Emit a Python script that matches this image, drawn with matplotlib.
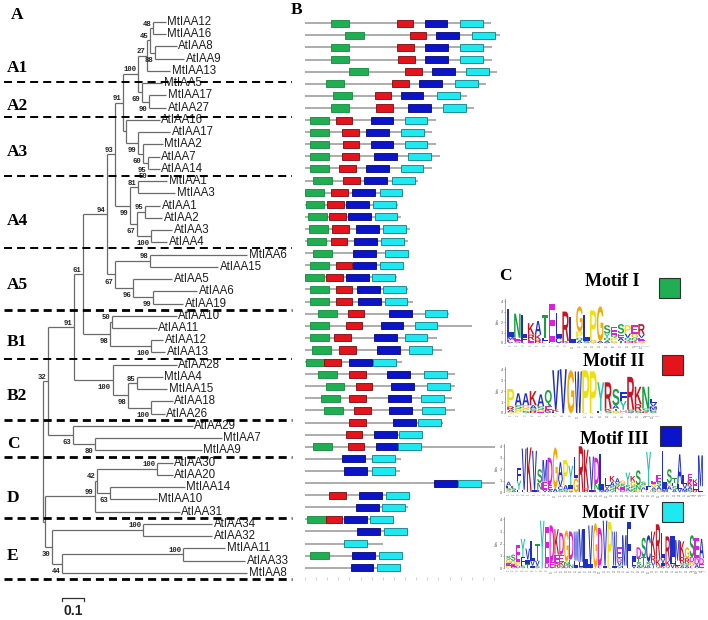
import numpy as np
import matplotlib
matplotlib.use('Agg')
import matplotlib.pyplot as plt
import matplotlib.transforms as mtransforms
from matplotlib.patches import Rectangle, PathPatch
from matplotlib.textpath import TextPath
from matplotlib.font_manager import FontProperties

plt.rcParams['font.family'] = ['Liberation Sans', 'DejaVu Sans']

# ---------------- A: tree (newick per subfamily, length = subst./site, node label = bootstrap)
clade_A1 = "(((MtIAA12:0.060,MtIAA16:0.060)48:0.014,(AtIAA8:0.102,AtIAA9:0.135)88:0.023)45:0.014,MtIAA13:0.107)27"
clade_A2 = "(MtIAA5:0.093,(MtIAA17:0.079,AtIAA27:0.079)90:0.033)69"
clade_A3 = "(AtIAA16:0.158,(AtIAA17:0.149,(MtIAA2:0.093,(AtIAA7:0.056,(AtIAA14:0.051)50:0.005)95:0.023)60:0.023)99:0.056)"
clade_A4 = "((MtIAA1:0.135,MtIAA3:0.172)81:0.037,((AtIAA1:0.070,AtIAA2:0.079)95:0.037,(AtIAA3:0.098,AtIAA4:0.074)100:0.065)67:0.033)99"
clade_A5 = "((MtIAA6:0.451,AtIAA15:0.316)98:0.163,(AtIAA5:0.181,(AtIAA6:0.205,AtIAA19:0.140)99:0.093)96:0.084)67"
clade_B1 = "((AtIAA10:0.302,AtIAA11:0.209)50:0.009,(AtIAA12:0.056,AtIAA13:0.065)100:0.191)98"
clade_B2 = "(AtIAA28:0.298,((MtIAA4:0.121,MtIAA15:0.140)85:0.042,(AtIAA18:0.102,AtIAA26:0.065)100:0.107)98:0.070)100"
clade_C = "(AtIAA29:0.558,(MtIAA7:0.591,MtIAA9:0.498)80:0.102)63"
clade_D = "(((AtIAA30:0.074,AtIAA20:0.074)100:0.279,(MtIAA14:0.349,MtIAA10:0.219)63:0.060)42:0.009,AtIAA31:0.395)99"
clade_E = "((AtIAA34:0.321,AtIAA32:0.321)100:0.423,((MtIAA11:0.195,AtIAA33:0.288)100:0.563,MtIAA8:0.860)44:0.047)30"

A12 = f"({clade_A1}:0.042,{clade_A2}:0.019)100"
A123 = f"({A12}:0.070,{clade_A3}:0.014)91"
A1234 = f"({A123}:0.037,{clade_A4}:0.070)93"
A_all = f"({A1234}:0.037,{clade_A5}:0.037)94"
AB1 = f"({A_all}:0.112,{clade_B1}:0.126)61"
AB = f"({AB1}:0.042,{clade_B2}:0.181)91"
ABC = f"({AB}:0.121,{clade_C}:0.116)32"
DE = f"({clade_D}:0.233,{clade_E}:0.033)"
tree_newick = f"({ABC}:0.023,{DE}:0.009);"

group_names = ['A1', 'A2', 'A3', 'A4', 'A5', 'B1', 'B2', 'C', 'D', 'E']
group_sizes = [5, 3, 5, 6, 5, 4, 5, 3, 5, 5]
scale_len = 0.1

# ---------------- B: protein length / motif start positions (aa), None = absent
protein_len = [335, 355, 336, 337, 345, 325, 292, 304, 235, 228, 235, 242, 228,
               204, 177, 167, 173, 188, 186, 186, 177, 165, 186, 195, 259, 301,
               237, 246, 174, 269, 270, 265, 269, 249, 210, 341, 173, 170, 341,
               189, 185, 158, 185, 141, 174, 173]
motif1_start = [46, 72, 46, 46, 79, 37, 51, 46, 9, 9, 9, 9, 9, 15, 0, 1, 5, 7, 4,
                15, 9, 0, 9, 9, 23, 9, 9, 13, 2, 23, 37, 29, 35, None, None, 14,
                None, None, None, None, None, 3, None, None, 9, None]
motif2_start = [165, 188, 166, 167, 180, 157, 125, 128, 55, 67, 68, 67, 61, 69,
                47, 40, 44, 49, 46, None, 55, 38, 55, 55, 77, 73, 53, 61, 35, 80,
                91, 80, 88, 79, 73, 77, None, None, None, 43, None, 37, None,
                None, None, None]
motif3_start = [215, 236, 216, 216, 229, 205, 172, 185, 118, 110, 118, 124, 110,
                107, 85, 74, 77, 92, 88, 86, 86, 74, 93, 95, 151, 136, 124, 129,
                80, 147, 155, 149, 151, 159, 124, 127, 67, 71, 232, 98, 92, 71,
                94, None, 84, 82]
motif4_start = [279, 300, 279, 279, 290, 270, 237, 249, 179, 173, 179, 186, 172,
                157, 134, 123, 125, 141, 137, 144, 135, 120, 140, 143, 215, 197,
                179, 187, 122, 214, 220, 209, 211, 203, 169, 168, 121, 121, 275,
                146, 139, 117, 142, 70, 133, 130]
motif_len = [34, 30, 41, 41]
motif_names = ['Motif I', 'Motif II', 'Motif III', 'Motif IV']
motif_fc = ['#1fae52', '#e5131c', '#0b14c8', '#1ee9f1']
motif_ec = ['#138a3c', '#7a0a0e', '#05096e', '#0d7d84']

# ---------------- C: sequence logos (letter + bits per column)
logo_I = ["L2.6 M.3 E.2 A.1", "N2.3 E.3 S.2", "L2.2 F.3 E.2", "K1.1 R.5 E.3",
          "A1.3 K.5 R.3", "T2.2 L.3 E.2", "E3.6 L.1", "L2.4 C.5", "R2.8 K.2",
          "L2.5", "G2.4 P.6 Q.3 A.2", "L2.5 S.2", "P2.8 G.3", "G3.3 A.2",
          "S.8 Y.4 Q.3 A.2", "E.7 P.3 Q.3 G.2", "S.9 E.4 A.3 T.2",
          "P.8 V.4 Q.3 D.2", "E.8 G.4 Q.3 K.2", "R1.0 E.3 V.3 G.2"]
logo_II = ["P1.6 R.3 A.2 G.1", "A1.1 S.3 P.2 G.2", "A1.1 G.3 S.2 P.2",
           "K1.3 A.3 R.2 S.2", "A1.1 S.3 G.2 E.1", "Q1.5 E.3 K.2 A.1",
           "V3.6 K.2 L.1", "V4.0", "G3.9", "W3.8", "P3.9", "P3.8", "Y2.6 F.2",
           "R2.4 S.2 K.2", "S1.5 A.3 G.2 T.2", "Y.8 F.8 H.3", "R3.0 S.2 A.1",
           "K1.6 R.6 S.2", "N2.0 S.3 K.1", "L.4 M.3 V.3 C.2 S.1"]
logo_III = ["A.35 S.2 L.2 G.15", "S.2 E.2 A.15", "F1.1 Y.8 L.2", "V3.6 L.2",
            "K3.9", "V3.4 I.2", "S1.2 N.6 E.2", "M1.9 E.7 V.2", "D2.4 E.4 A.2",
            "G3.6 A.3", "A1.5 V.6 S.2 C.3", "P2.2 A.4 S.2", "Y1.7 I.3 G.2 A.1",
            "L1.9 G1.2", "R4.0", "K3.4 R.3", "V2.9 I.2", "D2.3 N.5 E.2",
            "L3.1 M.2", "L.7 A.2 V.2 K.1", "K.5 A.4 S.3 Q.2", "A.4 K.3 S.3 E.2",
            "S.3 G.3 D.2 E.2", "Y1.1 S.3 A.2 G.1", "K.5 G.4 S.3 N.2",
            "S1.3 N.4 G.2", "S.3 E.2 A.2 G.2", "Y3.0 F.3 H.2", "G.3 E.3 S.2 A.2",
            "E.6 S.4 A.3 G.2", "L3.3 M.3", "S1.2 A.3 G.3 E.2", "T.4 S.3 L.3 A.2",
            "A2.6 L.4 V.3", "L.8 V.4 M.3", "E.6 K.5 A.3 S.2", "K.4 E.3 R.2 L.2",
            "M2.7 L.5"]
logo_IV = ["G.3 S.3 P.2 E.2", "S.5 G.3 E.2 D.1", "E1.4 P.3 D.2", "Y1.5 F.7 S.2",
           "V.9 I.4 T.3", "L1.6 V.4 I.2", "T1.4 V.4 S.2", "Y3.9", "E3.0 D.4",
           "D3.0 E.5", "K2.1 E.7 R.4", "D1.8 E.6 K.3 N.2", "G2.6 N.3 D.2",
           "D2.3 E.4 N.3", "W2.4 L.4 I.2", "M2.7 L.4 A.1", "L2.9 I.3", "V3.2 I.3",
           "G3.7", "D3.1 E.2", "V3.7 I.2", "P3.8", "W2.8 I.2", "E.9 V.3 D.3 Q.2",
           "M2.5 L.2", "F3.8", "I.5 L.3 V.2", "D.9 S.3 T.3 A.2", "S1.6 T.7 N.2",
           "C2.2 S.3 A.2", "K2.0 R.5 V.3 T.2", "R2.9 K.5 Q.2", "L2.1 V.4 K.2 I.2",
           "R2.0 K.4 Q.2", "I1.7 L.6 V.3", "M1.7 L.4 K.2", "K1.3 R.5 A.2 S.2",
           "G.9 R.4 A.2 S.2", "S1.8 D.4 G.3 E.2", "E1.7 D.5 A.3", "A1.6 D.5 E.3"]
logos = [logo_I, logo_II, logo_III, logo_IV]

# ---------------- figure
W, H = 708, 620
fig = plt.figure(figsize=(W / 100, H / 100), dpi=100)
SERIF = 'Liberation Serif'


def px_axes(x0, y0, x1, y1):
    ax = fig.add_axes([x0 / W, 1 - y1 / H, (x1 - x0) / W, (y1 - y0) / H])
    ax.set_facecolor('none')
    return ax


canvas = px_axes(0, 0, W, H)
canvas.set_xlim(0, W)
canvas.set_ylim(H, 0)
canvas.axis('off')

# ---------------- panel A
def parse_newick(s):
    pos = 0

    def read():
        nonlocal pos
        kids = []
        if s[pos] == '(':
            pos += 1
            kids.append(read())
            while s[pos] == ',':
                pos += 1
                kids.append(read())
            pos += 1
        j = pos
        while s[pos] not in ',);':
            pos += 1
        name, _, blen = s[j:pos].partition(':')
        return {'name': name, 'len': float(blen) if blen else 0.0, 'kids': kids}
    return read()


leaves = []


def layout(nd, x0, upper=True):
    nd['x'] = x0 + nd['len']
    nd['upper'] = upper
    if nd['kids']:
        for k, kid in enumerate(nd['kids']):
            layout(kid, nd['x'], k == 0)
        nd['y'] = (nd['kids'][0]['y'] + nd['kids'][-1]['y']) / 2
    else:
        nd['y'] = len(leaves)
        leaves.append(nd)


TREE_C = '#6a6a6a'


def draw_tree(ax, nd):
    for kid in nd['kids']:
        ax.plot([nd['x'], kid['x']], [kid['y'], kid['y']], color=TREE_C, lw=0.9,
                solid_capstyle='butt')
        draw_tree(ax, kid)
    if nd['kids']:
        ax.plot([nd['x'], nd['x']], [nd['kids'][0]['y'], nd['kids'][-1]['y']],
                color=TREE_C, lw=0.9, solid_capstyle='butt')
        if nd['name']:
            dy = -0.33 if nd['upper'] else 0.62
            ax.text(nd['x'] - 0.008, nd['y'] + dy, nd['name'], ha='right',
                    va='center', fontsize=5.2, family='Liberation Mono',
                    weight='bold', color='#222222')
    else:
        ax.text(nd['x'] + 0.007, nd['y'], nd['name'], ha='left', va='center',
                fontsize=8.3, color='#1e1e1e')


root = parse_newick(tree_newick)
layout(root, 0.0)

PX_UNIT, ROOT_PX = 215.0, 43.0
ROW0, ROW_H = 22.0, 12.24
axt = px_axes(0, 0, 300, H)
axt.set_xlim(-ROOT_PX / PX_UNIT, (300 - ROOT_PX) / PX_UNIT)
axt.set_ylim((H - ROW0) / ROW_H, -ROW0 / ROW_H)
axt.axis('off')
draw_tree(axt, root)

# subfamily separators and labels
bounds = np.cumsum(group_sizes) - 0.5
thick = [False, False, False, False, True, False, True, True, True, True]
sep_shift = [0.4, 0.28, 0.08, 0, 0, 0, 0, 0, 0, 0]
label_shift = [1.27, 0.37, 0.1, 0.27, 0.0, 0.16, 0.05, 0.0, 0.4, 0.16]
x_sep = [(4 - ROOT_PX) / PX_UNIT, (292 - ROOT_PX) / PX_UNIT]
for name, size, b, tk, sh, ls in zip(group_names, group_sizes, bounds, thick,
                                     sep_shift, label_shift):
    lw = 2.0 if tk else 1.4
    axt.plot(x_sep, [b + sh, b + sh], color='black', lw=lw,
             linestyle=(0, (5.8 / lw, 3.6 / lw)), zorder=5)
    mid = b - size / 2 + 0.5 + ls
    axt.text((7 - ROOT_PX) / PX_UNIT, mid, name, ha='left', va='center',
             fontsize=12.5, family=SERIF, weight='bold')

# scale bar
sb_x0 = (62 - ROOT_PX) / PX_UNIT
sb_y = 47.05
axt.plot([sb_x0, sb_x0, sb_x0 + scale_len, sb_x0 + scale_len],
         [sb_y + 0.25, sb_y, sb_y, sb_y + 0.25], color='#333333', lw=0.9)
axt.text(sb_x0 + scale_len / 2, sb_y + 1.1, f'{scale_len:g}', ha='center',
         va='center', fontsize=10, weight='bold', color='#222222')

# ---------------- panel B
AA_PX, START_PX = 0.556, 305.0
ROW0_B, ROW_H_B = 23.3, 12.1
axb = px_axes(300, 0, 500, H)
axb.set_xlim((300 - START_PX) / AA_PX, (500 - START_PX) / AA_PX)
axb.set_ylim((H - ROW0_B) / ROW_H_B, -ROW0_B / ROW_H_B)
for sp in ['top', 'right', 'left']:
    axb.spines[sp].set_visible(False)
axb.spines['bottom'].set_position(('data', 45.8))
axb.spines['bottom'].set_visible(False)
axb.set_yticks([])
axb.set_xticks(np.arange(0, 341, 20))
axb.tick_params(axis='x', length=2.2, width=0.8, color='#d4d4d4',
                labelbottom=False, direction='out')

starts_all = [motif1_start, motif2_start, motif3_start, motif4_start]
for i, plen in enumerate(protein_len):
    axb.plot([0, plen], [i, i], color='#a6a6a6', lw=1.3, solid_capstyle='butt',
             zorder=1)
    for starts, mlen, fc, ec in zip(starts_all, motif_len, motif_fc, motif_ec):
        s = starts[i]
        if s is None:
            continue
        axb.add_patch(Rectangle((s, i - 0.29), mlen, 0.58, fc=fc, ec=ec,
                                lw=0.6, zorder=2))

# ---------------- panel C
LOGO_FP = FontProperties(family='Liberation Sans', weight='bold')
letter_col = {}
for c in 'ACFILMVW':
    letter_col[c] = '#1f2fc8'
for c in 'NQST':
    letter_col[c] = '#17a03e'
for c in 'DE':
    letter_col[c] = '#e01ee0'
for c in 'KR':
    letter_col[c] = '#cc1122'
letter_col.update({'G': '#f5a800', 'P': '#eee010', 'Y': '#27c4b0', 'H': '#ff9fb0'})


def draw_letter(ax, ch, x, y, w, h):
    tp = TextPath((0, 0), ch, size=1, prop=LOGO_FP)
    bb = tp.get_extents()
    tr = (mtransforms.Affine2D().translate(-bb.x0, -bb.y0)
          .scale(w / bb.width, h / bb.height).translate(x, y))
    ax.add_patch(PathPatch(tr.transform_path(tp), fc=letter_col[ch], lw=0))


logo_boxes = [(505, 299, 650, 343), (505, 367, 660, 413),
              (504, 444, 705, 492), (504, 517, 705, 568)]
letter_span = [(507, 645), (507, 657), (506, 703), (506, 704)]
for cols, (x0, y0, x1, y1), (l0, l1) in zip(logos, logo_boxes, letter_span):
    ax = px_axes(x0, y0, x1, y1)
    n = len(cols)
    cw = (l1 - l0) / n
    ax.set_xlim((x0 - l0) / cw, (x1 - l0) / cw)
    ax.set_ylim(0, 4.2)
    for i, col in enumerate(cols):
        stack = sorted(((t[0], float(t[1:])) for t in col.split()),
                       key=lambda t: t[1])
        y = 0.0
        for ch, h in stack:
            draw_letter(ax, ch, i + 0.03, y, 0.94, h)
            y += h
    for sp in ['top', 'right', 'bottom']:
        ax.spines[sp].set_visible(False)
    ax.spines['left'].set_color('#777777')
    ax.spines['left'].set_linewidth(0.5)
    ax.set_yticks([0, 1, 2, 3, 4])
    ax.set_xticks(np.arange(n) + 0.5)
    ax.set_xticklabels([str(k + 1) for k in range(n)], rotation=90)
    ax.tick_params(axis='y', labelsize=2.8, length=1, width=0.4, pad=0.5,
                   colors='#555555')
    ax.tick_params(axis='x', labelsize=1.8, length=0.8, width=0.3, pad=0.4,
                   colors='#777777')
    ax.set_ylabel('bits', fontsize=2.8, labelpad=0.5, color='#555555')
    ax.text(1.0, -0.06, 'MEME (no SSC)', transform=ax.transAxes, ha='right',
            va='top', fontsize=1.5, color='#888888')

title_xy = [(612, 282), (614, 362), (614, 440), (616, 514)]
square_xy = [(659, 278), (662, 355), (660, 426), (662, 502)]
for name, fc, (tx, ty), (sx, sy) in zip(motif_names, motif_fc, title_xy, square_xy):
    canvas.text(tx, ty, name, ha='center', va='center', fontsize=13,
                family=SERIF, weight='bold')
    canvas.add_patch(Rectangle((sx, sy), 21, 20, fc=fc, ec='#303030', lw=0.8))

for lab, (x, y) in zip(['A', 'B', 'C'], [(17, 15), (297, 10), (505, 276)]):
    canvas.text(x, y, lab, ha='center', va='center', fontsize=12.5,
                family=SERIF, weight='bold')

fig.savefig('out.png', dpi=100)
